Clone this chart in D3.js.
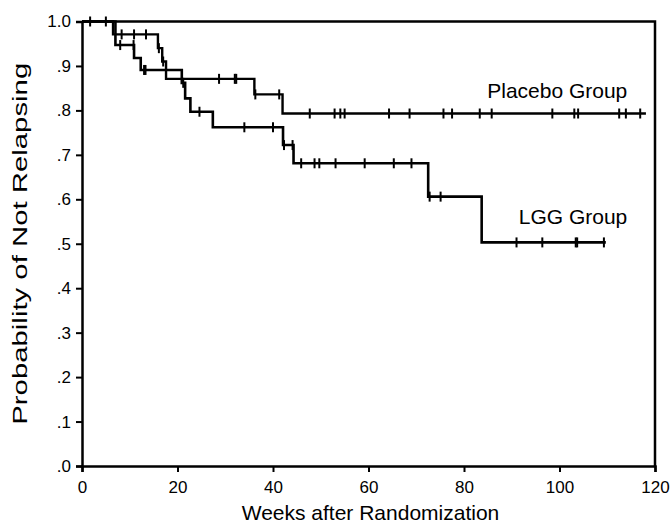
<!DOCTYPE html>
<html lang="en">
<head>
  <meta charset="UTF-8">
  <title>Kaplan-Meier: Placebo vs LGG</title>
  <script src="https://d3js.org/d3.v7.min.js"></script>
  <style>
  body { margin: 0; background: #fff; }
  text { font-family: "Liberation Sans", Arial, sans-serif; fill: #000; }
  </style>
</head>
<body>

<div id="chart"></div>

<script type="text/javascript">

// step times (weeks) and survival after each step
const placeboTimes = [0, 6.5, 15.9, 16.8, 17.6, 36.1, 42.0, 118.1];
const placeboSurv  = [1.0, 0.971, 0.940, 0.910, 0.871, 0.836, 0.793, 0.793];
const placeboCensor = [1.7, 5.0, 8.3, 10.9, 13.4, 16.1, 17.0, 28.7, 32.0, 32.3, 36.3, 41.3,
  47.7, 52.9, 54.1, 55.0, 64.3, 68.6, 75.7, 77.5, 83.3, 85.8, 98.5, 103.1, 103.9,
  112.5, 113.9, 116.9];

const lggTimes = [0, 7.0, 10.9, 12.3, 20.9, 21.6, 22.7, 27.4, 42.1, 44.3, 72.5, 83.7, 109.7];
const lggSurv  = [1.0, 0.947, 0.918, 0.891, 0.862, 0.827, 0.797, 0.762, 0.722, 0.681, 0.606, 0.503, 0.503];
const lggCensor = [8.0, 10.8, 13.0, 13.3, 21.2, 24.6, 34.0, 40.0, 42.3, 44.1, 45.9, 48.7, 49.7,
  53.1, 59.2, 65.3, 69.0, 72.8, 75.1, 91.0, 96.4, 103.4, 103.7, 109.3];

const xTicks = [0, 20, 40, 60, 80, 100, 120];
const yTicks = [0, .1, .2, .3, .4, .5, .6, .7, .8, .9, 1.0];
const yTickLabels = [".0", ".1", ".2", ".3", ".4", ".5", ".6", ".7", ".8", ".9", "1.0"];

const W = 671, H = 527;
const margin = {top: 21.5, right: 16, bottom: 61, left: 82};
const gw = W - margin.left - margin.right;
const gh = H - margin.top - margin.bottom;

const svg = d3.select("#chart").append("svg")
  .attr("width", W)
  .attr("height", H);

const graph = svg.append("g")
  .attr("transform", `translate(${margin.left},${margin.top})`);

const x = d3.scaleLinear().domain([0, 120]).range([0, gw]);
const y = d3.scaleLinear().domain([0, 1]).range([gh, 0]);

// frame (top + right)
graph.append("path")
  .attr("d", `M0,0H${gw}V${gh}`)
  .attr("fill", "none")
  .attr("stroke", "#000")
  .attr("stroke-width", 2.5);

const xAxis = d3.axisBottom(x)
  .tickValues(xTicks)
  .tickSizeOuter(0)
  .tickSize(6)
  .tickPadding(9);

const yAxis = d3.axisLeft(y)
  .tickValues(yTicks)
  .tickSizeOuter(0)
  .tickSize(6)
  .tickPadding(5)
  .tickFormat((d, i) => yTickLabels[i]);

const xAxisGroup = graph.append("g")
  .attr("transform", `translate(0, ${gh})`)
  .call(xAxis);

const yAxisGroup = graph.append("g").call(yAxis);

[xAxisGroup, yAxisGroup].forEach(g => {
  g.select(".domain").attr("stroke-width", 2.5);
  g.selectAll(".tick line").attr("stroke-width", 2);
  g.selectAll("text")
    .attr("font-size", 17)
    .attr("font-family", "Liberation Sans, Arial, sans-serif");
});

// step lines
const line = d3.line()
  .x(d => x(d[0]))
  .y(d => y(d[1]))
  .curve(d3.curveStepAfter);

const survAt = (times, surv, t) => {
  let s = surv[0];
  times.forEach((tt, i) => { if (t >= tt) s = surv[i]; });
  return s;
};

const drawCurve = (times, surv, censor, width) => {
  const pts = times.map((t, i) => [t, surv[i]]);
  graph.append("path")
    .attr("d", line(pts))
    .attr("fill", "none")
    .attr("stroke", "#000")
    .attr("stroke-width", width);

  graph.selectAll(null)
    .data(censor)
    .enter()
    .append("line")
      .attr("x1", d => x(d))
      .attr("x2", d => x(d))
      .attr("y1", d => y(survAt(times, surv, d)) - 5)
      .attr("y2", d => y(survAt(times, surv, d)) + 5)
      .attr("stroke", "#000")
      .attr("stroke-width", 2);
};

drawCurve(placeboTimes, placeboSurv, placeboCensor, 2.4);
drawCurve(lggTimes, lggSurv, lggCensor, 2.6);

// group labels
graph.append("text")
  .attr("x", x(114.2))
  .attr("y", y(0.829))
  .attr("text-anchor", "end")
  .attr("font-size", 21)
  .text("Placebo Group");

graph.append("text")
  .attr("x", x(114.2))
  .attr("y", y(0.544))
  .attr("text-anchor", "end")
  .attr("font-size", 21)
  .text("LGG Group");

// axis titles
svg.append("text")
  .attr("x", margin.left + gw / 2 + 2)
  .attr("y", 520)
  .attr("text-anchor", "middle")
  .attr("font-size", 21)
  .text("Weeks after Randomization");

svg.append("text")
  .attr("transform", `translate(27, ${margin.top + gh / 2}) rotate(-90)`)
  .attr("text-anchor", "middle")
  .attr("font-size", 21)
  .attr("textLength", 362)
  .attr("lengthAdjust", "spacingAndGlyphs")
  .text("Probability of Not Relapsing");

</script>
</body>
</html>
